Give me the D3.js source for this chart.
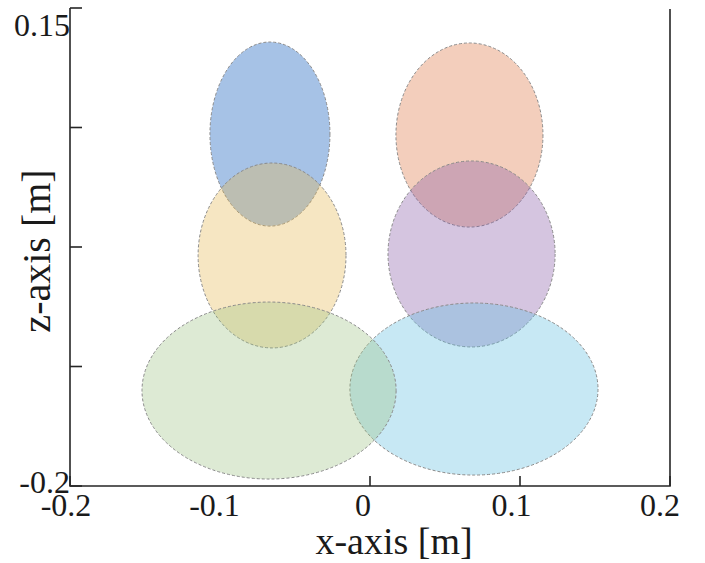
<!DOCTYPE html>
<html>
<head>
<meta charset="utf-8">
<script src="https://cdn.jsdelivr.net/npm/d3@7"></script>
<style>
  body { margin: 0; background: #fff; }
  text { font-family: "Liberation Serif", "DejaVu Serif", serif; fill: #1a1a1a; }
</style>
</head>
<body>
<svg id="canvas"></svg>
<script>
// ellipse centres / semi-axes in metres
const names = ["blue", "orange", "yellow", "purple", "cyan", "green"];
const centerX = [-0.0667, 0.0663, -0.0653, 0.0677, 0.0693, -0.0673];
const centerZ = [0.0577, 0.0570, -0.0312, -0.0301, -0.1290, -0.1301];
const radiusX = [0.0400, 0.0490, 0.0493, 0.0557, 0.0827, 0.0847];
const radiusZ = [0.0674, 0.0674, 0.0677, 0.0681, 0.0630, 0.0648];
const colors = ["#0050b8", "#dd733f", "#e5b851", "#8759a6", "#5fbde0", "#9ec384"];

const xTicks = [-0.2, -0.1, 0, 0.1, 0.2];
const xTickLabels = ["-0.2", "-0.1", "0", "0.1", "0.2"];
const zTicks = [-0.2, -0.1125, -0.025, 0.0625, 0.15];
const zTickLabels = ["-0.2", "", "", "", "0.15"];

const width = 705,
    height = 563;

const svg = d3.select("#canvas")
    .attr("width", width)
    .attr("height", height);

const box = { left: 70, right: 670, top: 8, bottom: 486 };

const scaleX = d3.scaleLinear().domain([-0.2, 0.2]).range([box.left, box.right]);
const labelX = d3.scaleLinear().domain([-0.2, 0.2]).range([66, 660]);
const scaleZ = d3.scaleLinear().domain([-0.2, 0.15]).range([box.bottom, box.top]);

const axisColor = "#262626";

// ellipses
const ellipses = svg.append("g").classed("ellipses", true);
names.forEach((n, i) => {
    ellipses.append("ellipse")
        .attr("cx", scaleX(centerX[i]))
        .attr("cy", scaleZ(centerZ[i]))
        .attr("rx", scaleX(radiusX[i]) - scaleX(0))
        .attr("ry", scaleZ(0) - scaleZ(radiusZ[i]))
        .attr("fill", colors[i])
        .attr("fill-opacity", 0.35)
        .attr("stroke", "#8a8a8a")
        .attr("stroke-width", 1)
        .attr("stroke-dasharray", "3,2");
});

// axes
const axes = svg.append("g").classed("axes", true)
    .attr("stroke", axisColor)
    .attr("stroke-width", 1.6)
    .attr("fill", "none");
axes.append("path")
    .attr("d", `M${box.left},${box.top}V${box.bottom}H${box.right}V${box.top + 1}`);

// y ticks (inward)
zTicks.forEach((v) => {
    axes.append("line")
        .attr("x1", box.left).attr("x2", box.left + 12)
        .attr("y1", scaleZ(v)).attr("y2", scaleZ(v));
});
// x ticks (inward); the -0.1 one is hidden under the green ellipse
xTicks.filter(v => v !== -0.1).forEach((v) => {
    axes.append("line")
        .attr("x1", scaleX(v)).attr("x2", scaleX(v))
        .attr("y1", box.bottom).attr("y2", box.bottom - 10);
});

// tick labels
svg.append("g").selectAll("text")
    .data(xTicks)
    .join("text")
    .attr("x", (d) => labelX(d))
    .attr("y", 516)
    .attr("text-anchor", "middle")
    .attr("font-size", 32)
    .text((d, i) => xTickLabels[i]);

svg.append("g").selectAll("text")
    .data(zTicks)
    .join("text")
    .attr("x", 70)
    .attr("y", (d) => Math.min(Math.max(scaleZ(d), 24) + 12, 493))
    .attr("text-anchor", "end")
    .attr("font-size", 32)
    .text((d, i) => zTickLabels[i]);

// axis titles
svg.append("text")
    .attr("x", 394)
    .attr("y", 554)
    .attr("text-anchor", "middle")
    .attr("font-size", 38)
    .text("x-axis [m]");

svg.append("text")
    .attr("transform", "translate(50,251) rotate(-90)")
    .attr("text-anchor", "middle")
    .attr("font-size", 40)
    .text("z-axis [m]");
</script>
</body>
</html>
